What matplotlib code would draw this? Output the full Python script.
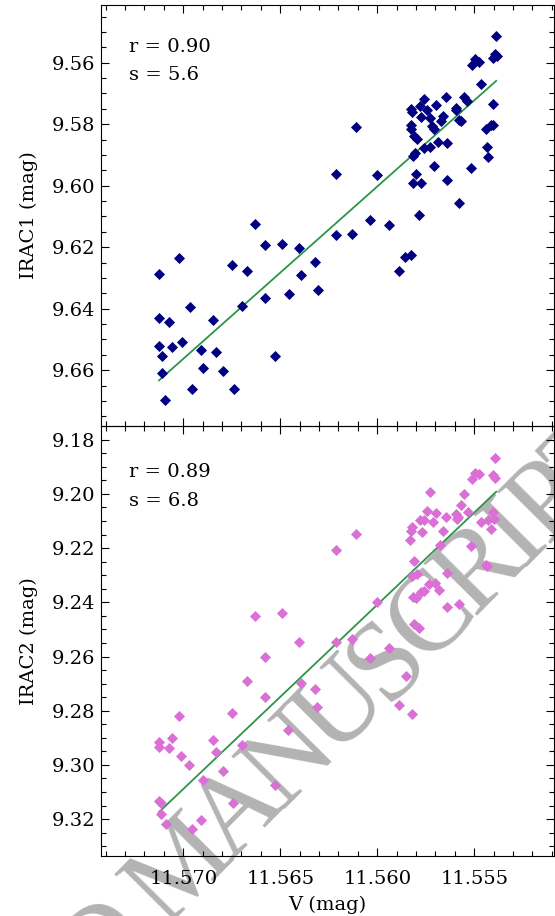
import numpy as np
import matplotlib
matplotlib.use("Agg")
import matplotlib.pyplot as plt
from matplotlib.ticker import MultipleLocator, FormatStrFormatter

plt.rcParams['font.family'] = ['DejaVu Serif']
plt.rcParams['mathtext.fontset'] = 'dejavuserif'

# V vs IRAC1
v1 = [11.55390, 11.55393, 11.55402, 11.55385, 11.55496, 11.55476, 11.55512, 11.55463,
      11.55402, 11.55552, 11.55536, 11.55592, 11.55594, 11.55579, 11.55566, 11.55648,
      11.55695, 11.55759, 11.55782, 11.55828, 11.55820, 11.55745, 11.55772, 11.55728,
      11.55663, 11.55673, 11.55828, 11.55825, 11.55716, 11.55706, 11.55811, 11.55795,
      11.55685, 11.55643, 11.55759, 11.55728, 11.55806, 11.55814, 11.55436, 11.55431,
      11.55441, 11.55414, 11.55404, 11.56111, 11.56213, 11.56000, 11.55798, 11.55814,
      11.55777, 11.55706, 11.55519, 11.55642, 11.55581, 11.55786, 11.55940, 11.56039,
      11.56129, 11.56211, 11.55856, 11.55824, 11.55888, 11.56630, 11.56579, 11.56493,
      11.56403, 11.57022, 11.57125, 11.56749, 11.56673, 11.56392, 11.56321, 11.56579,
      11.56455, 11.56307, 11.56967, 11.56696, 11.57125, 11.57072, 11.56848, 11.57125,
      11.57057, 11.57008, 11.57111, 11.56909, 11.56830, 11.56527, 11.57111, 11.56900,
      11.56797, 11.56957, 11.56740, 11.57093]
irac1 = [9.5513, 9.5573, 9.5586, 9.5577, 9.5588, 9.5597, 9.5607, 9.5669,
         9.5733, 9.5713, 9.5725, 9.5747, 9.5755, 9.5786, 9.5791, 9.5711,
         9.5739, 9.5718, 9.5741, 9.5752, 9.5759, 9.5755, 9.5778, 9.5780,
         9.5773, 9.5791, 9.5803, 9.5817, 9.5806, 9.5816, 9.5837, 9.5849,
         9.5857, 9.5860, 9.5876, 9.5875, 9.5895, 9.5902, 9.5873, 9.5908,
         9.5817, 9.5804, 9.5804, 9.5810, 9.5962, 9.5966, 9.5961, 9.5992,
         9.5992, 9.5935, 9.5941, 9.5983, 9.6057, 9.6094, 9.6127, 9.6113,
         9.6156, 9.6160, 9.6231, 9.6224, 9.6277, 9.6126, 9.6193, 9.6188,
         9.6203, 9.6234, 9.6288, 9.6259, 9.6276, 9.6291, 9.6247, 9.6365,
         9.6353, 9.6338, 9.6393, 9.6391, 9.6431, 9.6443, 9.6438, 9.6521,
         9.6524, 9.6509, 9.6553, 9.6533, 9.6540, 9.6554, 9.6608, 9.6592,
         9.6602, 9.6662, 9.6661, 9.6697]

# V vs IRAC2
v2 = [11.55391, 11.55496, 11.55476, 11.55511, 11.55402, 11.55391, 11.55728, 11.55552,
      11.55567, 11.55534, 11.55406, 11.55745, 11.55696, 11.55648, 11.55594, 11.55588,
      11.55582, 11.55782, 11.55761, 11.55715, 11.55819, 11.55826, 11.55771, 11.55662,
      11.55463, 11.55431, 11.55399, 11.55415, 11.55830, 11.55677, 11.55519, 11.55810,
      11.55440, 11.55433, 11.56111, 11.56213, 11.55642, 11.55821, 11.55795, 11.55732,
      11.55703, 11.55682, 11.55759, 11.55776, 11.55816, 11.55801, 11.55581, 11.55642,
      11.56003, 11.55811, 11.55785, 11.56630, 11.56493, 11.56403, 11.56213, 11.56129,
      11.56038, 11.55940, 11.56578, 11.56673, 11.56392, 11.56320, 11.56309, 11.56579,
      11.55854, 11.55888, 11.55823, 11.57022, 11.56747, 11.56459, 11.57125, 11.57125,
      11.57057, 11.57072, 11.56848, 11.57010, 11.56831, 11.56696, 11.56969, 11.56797,
      11.56900, 11.56527, 11.57124, 11.57117, 11.56742, 11.57115, 11.57091, 11.56909,
      11.56955]
irac2 = [9.1866, 9.1921, 9.1928, 9.1945, 9.1930, 9.1941, 9.1992, 9.2000,
         9.2042, 9.2068, 9.2066, 9.2063, 9.2071, 9.2085, 9.2075, 9.2094,
         9.2085, 9.2096, 9.2096, 9.2104, 9.2123, 9.2136, 9.2141, 9.2136,
         9.2102, 9.2098, 9.2094, 9.2129, 9.2169, 9.2190, 9.2192, 9.2246,
         9.2261, 9.2265, 9.2149, 9.2208, 9.2292, 9.2303, 9.2295, 9.2334,
         9.2330, 9.2356, 9.2358, 9.2362, 9.2379, 9.2384, 9.2407, 9.2417,
         9.2400, 9.2481, 9.2495, 9.2451, 9.2441, 9.2547, 9.2545, 9.2535,
         9.2604, 9.2570, 9.2601, 9.2689, 9.2698, 9.2719, 9.2786, 9.2748,
         9.2671, 9.2780, 9.2812, 9.2821, 9.2807, 9.2871, 9.2917, 9.2933,
         9.2900, 9.2939, 9.2909, 9.2966, 9.2951, 9.2927, 9.3001, 9.3021,
         9.3056, 9.3074, 9.3133, 9.3142, 9.3142, 9.3182, 9.3217, 9.3203,
         9.3237]

# linear fits (end points)
fit_v = [11.57125, 11.55387]
fit1 = [9.6633, 9.5659]
fit2 = [9.3174, 9.1992]

stats = [("r = 0.90", "s = 5.6"), ("r = 0.89", "s = 6.8")]

W, H = 555, 916
fig = plt.figure(figsize=(W / 100, H / 100), dpi=100)
ax1 = fig.add_axes([0.182, 0.5349, 0.8162, 0.4596])
ax2 = fig.add_axes([0.182, 0.0655, 0.8162, 0.4694])

# watermark: letters set one by one along a diagonal, tightly tracked
stamp = "ACCEPTED MANUSCRIPT"
adv = {"A": .722, "C": .667, "E": .611, "P": .556, "T": .611, "D": .722, " ": .25,
       "M": .889, "N": .722, "U": .722, "S": .556, "R": .667, "I": .333}
ang = 45.2
step = 102.0                       # px per em of advance
gsize = 82                         # glyph size, pt
gem = gsize / 72 * 100             # glyph em in px
cs, sn = np.cos(np.radians(ang)), np.sin(np.radians(ang))
mids = np.cumsum([adv[c] for c in stamp]) - np.array([adv[c] / 2 for c in stamp])
ref = mids[10]                     # the A of MANUSCRIPT
x0, y0 = 232, 806
for c, m in zip(stamp, mids):
    if c == " ":
        continue
    d = (m - ref) * step
    cx, cy = x0 + d * cs, y0 - d * sn
    # skip glyphs lying wholly outside the canvas
    if cx < -50 or cy > H + 50 or cx > W + 50 or cy < -50:
        continue
    px = cx + 0.331 * gem * sn
    py = cy + 0.331 * gem * cs
    fig.text(px / W, 1 - py / H, c, family="Liberation Serif", fontsize=gsize,
             color="#b3b3b3", rotation=ang, rotation_mode="anchor",
             ha="center", va="baseline", zorder=-5)

ax1.scatter(v1, irac1, marker="D", s=32, color="#000080", linewidths=0, zorder=3)
ax1.plot(fit_v, fit1, color="#2b9548", lw=1.3, zorder=2)
ax2.scatter(v2, irac2, marker="D", s=32, color="#da70d6", linewidths=0, zorder=3)
ax2.plot(fit_v, fit2, color="#2b9548", lw=1.3, zorder=2)

ax1.set_ylim(9.67815, 9.54124)
ax2.set_ylim(9.33362, 9.17495)

for ax, st, yy in zip([ax1, ax2], stats, [(0.901, 0.834), (0.894, 0.826)]):
    ax.set_facecolor("none")
    ax.set_xlim(11.57424, 11.55089)
    ax.xaxis.set_major_locator(MultipleLocator(0.005))
    ax.xaxis.set_minor_locator(MultipleLocator(0.001))
    ax.yaxis.set_major_locator(MultipleLocator(0.02))
    ax.yaxis.set_minor_locator(MultipleLocator(0.005))
    ax.xaxis.set_major_formatter(FormatStrFormatter("%.3f"))
    ax.yaxis.set_major_formatter(FormatStrFormatter("%.2f"))
    ax.tick_params(which="both", direction="in", top=True, right=True, labelsize=14)
    ax.tick_params(which="major", length=6, width=0.8)
    ax.tick_params(which="minor", length=3.5, width=0.8)
    ax.tick_params(axis="x", pad=10)
    ax.tick_params(axis="y", pad=4)
    for sp in ax.spines.values():
        sp.set_linewidth(0.8)
    ax.text(0.062, yy[0], st[0], transform=ax.transAxes, fontsize=14, va="center")
    ax.text(0.062, yy[1], st[1], transform=ax.transAxes, fontsize=14, va="center")

ax1.tick_params(axis="x", labelbottom=False)
ax1.set_ylabel("IRAC1 (mag)", fontsize=14)
ax2.set_ylabel("IRAC2 (mag)", fontsize=14)
ax2.set_xlabel("V (mag)", fontsize=14, labelpad=6)
ax1.yaxis.set_label_coords(-0.139, 0.5)
ax2.yaxis.set_label_coords(-0.139, 0.5)

fig.savefig("out.png", dpi=100)
